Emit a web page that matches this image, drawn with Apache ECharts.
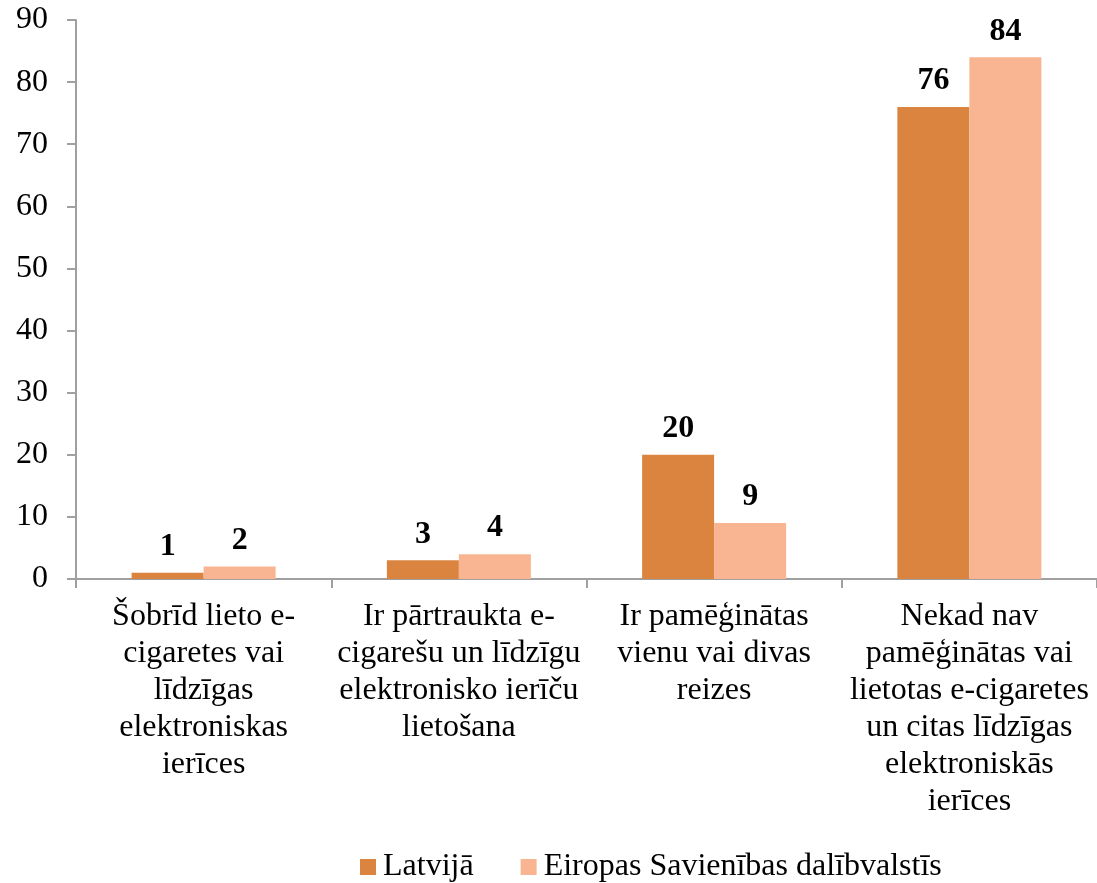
<!DOCTYPE html>
<html>
<head>
<meta charset="utf-8">
<script src="https://cdn.jsdelivr.net/npm/echarts@6/dist/echarts.min.js"></script>
<style>
  html, body { margin: 0; padding: 0; background: #fff; }
  #chart { width: 1097px; height: 883px; }
</style>
</head>
<body>
<div id="chart"></div>
<script>
// categories and values
var categories = [
  "Šobrīd lieto e-\ncigaretes vai\nlīdzīgas\nelektroniskas\nierīces",
  "Ir pārtraukta e-\ncigarešu un līdzīgu\nelektronisko ierīču\nlietošana",
  "Ir pamēģinātas\nvienu vai divas\nreizes",
  "Nekad nav\npamēģinātas vai\nlietotas e-cigaretes\nun citas līdzīgas\nelektroniskās\nierīces"
];
var latvia = [1, 3, 20, 76];
var eu = [2, 4, 9, 84];
var seriesNames = ["Latvijā", "Eiropas Savienības dalībvalstīs"];

var font = "'Liberation Serif', 'Times New Roman', serif";
var chart = echarts.init(document.getElementById("chart"));

var labelStyle = {
  show: true,
  position: "top",
  distance: 10,
  fontFamily: font,
  fontSize: 32,
  fontWeight: "bold",
  color: "#000"
};

var option = {
  animation: false,
  grid: { left: 76, right: 0, top: 20, bottom: 304, containLabel: false },
  legend: {
    bottom: -5,
    left: 355,
    itemWidth: 16,
    itemHeight: 16,
    itemGap: 47,
    icon: "rect",
    textStyle: { fontFamily: font, fontSize: 32, color: "#000", padding: [0, 0, 0, 2] },
    data: seriesNames
  },
  xAxis: {
    type: "category",
    data: categories,
    axisLine: { lineStyle: { color: "#a0a0a0", width: 2 } },
    axisTick: { show: true, length: 9, lineStyle: { color: "#a0a0a0", width: 2 } },
    axisLabel: {
      interval: 0,
      margin: 19,
      fontFamily: font,
      fontSize: 32,
      lineHeight: 37,
      color: "#000",
      align: "center"
    }
  },
  yAxis: {
    type: "value",
    min: 0,
    max: 90,
    interval: 10,
    splitLine: { show: false },
    axisLine: { show: true, lineStyle: { color: "#a0a0a0", width: 2 } },
    axisTick: { show: true, length: 9, lineStyle: { color: "#a0a0a0", width: 2 } },
    axisLabel: { fontFamily: font, fontSize: 32, color: "#000", margin: 28 }
  },
  series: [
    {
      name: seriesNames[0],
      type: "bar",
      data: latvia,
      barWidth: 72,
      barGap: "0%",
      itemStyle: { color: "#da843f" },
      label: labelStyle
    },
    {
      name: seriesNames[1],
      type: "bar",
      data: eu,
      barWidth: 72,
      itemStyle: { color: "#f9b591" },
      label: labelStyle
    }
  ]
};

chart.setOption(option);
</script>
</body>
</html>
